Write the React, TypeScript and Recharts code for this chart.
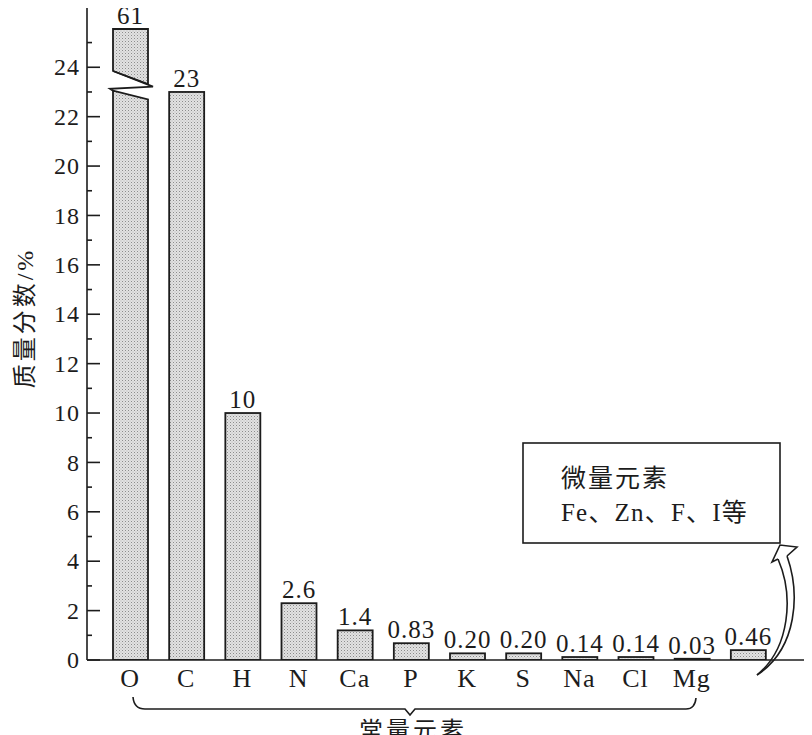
import React from "react";
import { BarChart, Bar, XAxis, YAxis, LabelList } from "recharts";

// ---- data ----
const categories = ["O", "C", "H", "N", "Ca", "P", "K", "S", "Na", "Cl", "Mg", "微量元素"];
// bar heights as drawn on the axis (O is drawn with a scale break)
const drawnHeights = [25.55, 23, 10, 2.3, 1.2, 0.68, 0.27, 0.27, 0.12, 0.12, 0.05, 0.4];
// printed mass-fraction labels
const valueLabels = ["61", "23", "10", "2.6", "1.4", "0.83", "0.20", "0.20", "0.14", "0.14", "0.03", "0.46"];
const brokenBar = [true, false, false, false, false, false, false, false, false, false, false, false];
const yTicks = [0, 1, 2, 3, 4, 5, 6, 7, 8, 9, 10, 11, 12, 13, 14, 15, 16, 17, 18, 19, 20, 21, 22, 23, 24, 25];
const yMax = 26.4;
// break geometry for the O bar (axis values)
const BREAK_LOWER_LEFT = 23.05;
const BREAK_LOWER_RIGHT = 22.7;
const BREAK_UPPER_LEFT = 23.85;
const BREAK_UPPER_RIGHT = 23.32;
const BREAK_TIP = 23.22;
const BREAK_BACK = 23.13;

const data = categories.map((c, i) => ({
  name: c,
  height: drawnHeights[i],
  label: valueLabels[i],
  broken: brokenBar[i],
}));

const INK = "#1c1c1c";
const SERIF = "'Liberation Serif', 'Noto Sans CJK SC', serif";

const BarShape = (props: any) => {
  const { x, y, width, height, payload } = props;
  const bottom = y + height;
  const common = { fill: "url(#stipple)", stroke: INK, strokeWidth: 1.8, strokeLinejoin: "miter" as const };
  if (!payload.broken) {
    return <rect x={x} y={y} width={width} height={Math.max(height, 0.5)} {...common} />;
  }
  const unit = height / payload.height;
  const yv = (v: number) => bottom - v * unit;
  const lower = `${x},${bottom} ${x},${yv(BREAK_LOWER_LEFT)} ${x + width},${yv(BREAK_LOWER_RIGHT)} ${x + width},${bottom}`;
  const upper = `${x},${y} ${x + width},${y} ${x + width},${yv(BREAK_UPPER_RIGHT)} ${x},${yv(BREAK_UPPER_LEFT)}`;
  const zig = `${x},${yv(BREAK_UPPER_LEFT)} ${x + width + 5},${yv(BREAK_TIP)} ${x - 3},${yv(BREAK_BACK)} ${x},${yv(BREAK_LOWER_LEFT)}`;
  return (
    <g>
      <polygon points={lower} {...common} />
      <polygon points={upper} {...common} />
      <polyline points={zig} fill="none" stroke={INK} strokeWidth={1.8} />
    </g>
  );
};

const YTick = (props: any) => {
  const { x, y, payload } = props;
  const v = payload.value;
  const major = v % 2 === 0;
  const ax = x + 7;
  return (
    <g>
      <line x1={ax} x2={ax + (major ? 13 : 5)} y1={y} y2={y} stroke={INK} strokeWidth={1.6} />
      {major && (
        <text x={x} y={y} dy="0.34em" textAnchor="end" fontFamily={SERIF} fontSize={24} letterSpacing={1} fill={INK}>
          {v}
        </text>
      )}
    </g>
  );
};

const XTick = (props: any) => {
  const { x, y, payload } = props;
  const t = payload.value === "微量元素" ? "" : payload.value;
  return (
    <text x={x} y={y} dy="0.71em" textAnchor="middle" fontFamily={SERIF} fontSize={26} letterSpacing={1} fill={INK}>
      {t}
    </text>
  );
};

const BarLabel = (props: any) => {
  const { x, y, width, value } = props;
  return (
    <text x={x + width / 2} y={y - 5} textAnchor="middle" fontFamily={SERIF} fontSize={25} letterSpacing={1} fill={INK}>
      {value}
    </text>
  );
};

export default function App() {
  return (
    <div style={{ position: "relative", width: 804, height: 727 }}>
      <style>{`.recharts-surface { overflow: visible; }`}</style>
      <BarChart width={804} height={727} data={data} margin={{ top: 0, right: 7, bottom: 45, left: 0 }}>
        <defs>
          <pattern id="stipple" width="3" height="3" patternUnits="userSpaceOnUse">
            <rect width="3" height="3" fill="#e2e2e2" />
            <rect x="0" y="0" width="1" height="1" fill="#8c8c8c" />
            <rect x="1.5" y="1.5" width="1" height="1" fill="#b4b4b4" />
          </pattern>
        </defs>
        <XAxis
          dataKey="name"
          height={30}
          padding={{ left: 15, right: 29 }}
          tickLine={false}
          tickSize={0}
          tickMargin={9}
          axisLine={{ stroke: INK, strokeWidth: 1.6 }}
          tick={<XTick />}
          interval={0}
        />
        <YAxis
          width={79}
          domain={[0, yMax]}
          ticks={yTicks}
          interval={0}
          allowDataOverflow
          tickLine={false}
          tickSize={0}
          tickMargin={7}
          axisLine={{ stroke: INK, strokeWidth: 1.6 }}
          tick={<YTick />}
        />
        <Bar dataKey="height" barSize={35} isAnimationActive={false} shape={<BarShape />}>
          <LabelList dataKey="label" content={<BarLabel />} />
        </Bar>
      </BarChart>
      <svg
        width={804}
        height={727}
        style={{ position: "absolute", left: 0, top: 0, overflow: "visible", pointerEvents: "none" }}
      >
        {/* y-axis title */}
        <text
          x={17}
          y={310}
          transform="rotate(-90 17 310)"
          textAnchor="middle"
          dominantBaseline="central"
          fontFamily={SERIF}
          fontSize={24}
          letterSpacing={3}
          fill={INK}
        >
          质量分数/%
        </text>
        {/* brace under macro elements */}
        <path
          d="M125,689 Q126,701 137,701 L397,701 L402,707 L407,701 L678,701 Q687,701 688,690"
          fill="none"
          stroke={INK}
          strokeWidth={1.6}
        />
        <text x={405} y={731} textAnchor="middle" fontFamily={SERIF} fontSize={24} letterSpacing={3} fill={INK}>
          常量元素
        </text>
        {/* trace element box */}
        <rect x={515} y={435} width={257} height={100} fill="white" stroke={INK} strokeWidth={1.6} />
        <text x={553} y={479} fontFamily={SERIF} fontSize={25} letterSpacing={2} fill={INK}>
          微量元素
        </text>
        <text x={553} y={513} fontFamily={SERIF} fontSize={25} letterSpacing={1.2} fill={INK}>
          Fe、Zn、F、I等
        </text>
        {/* curved double arrow */}
        <path d="M749,667 C790,640 792,585 779,548" fill="none" stroke={INK} strokeWidth={1.6} />
        <path d="M749,667 C782,640 786,588 770,551" fill="none" stroke={INK} strokeWidth={1.6} />
        <polyline
          points="770,551 764,554 772,537 789,539 779,548"
          fill="white"
          stroke={INK}
          strokeWidth={1.6}
          strokeLinejoin="miter"
        />
      </svg>
    </div>
  );
}
